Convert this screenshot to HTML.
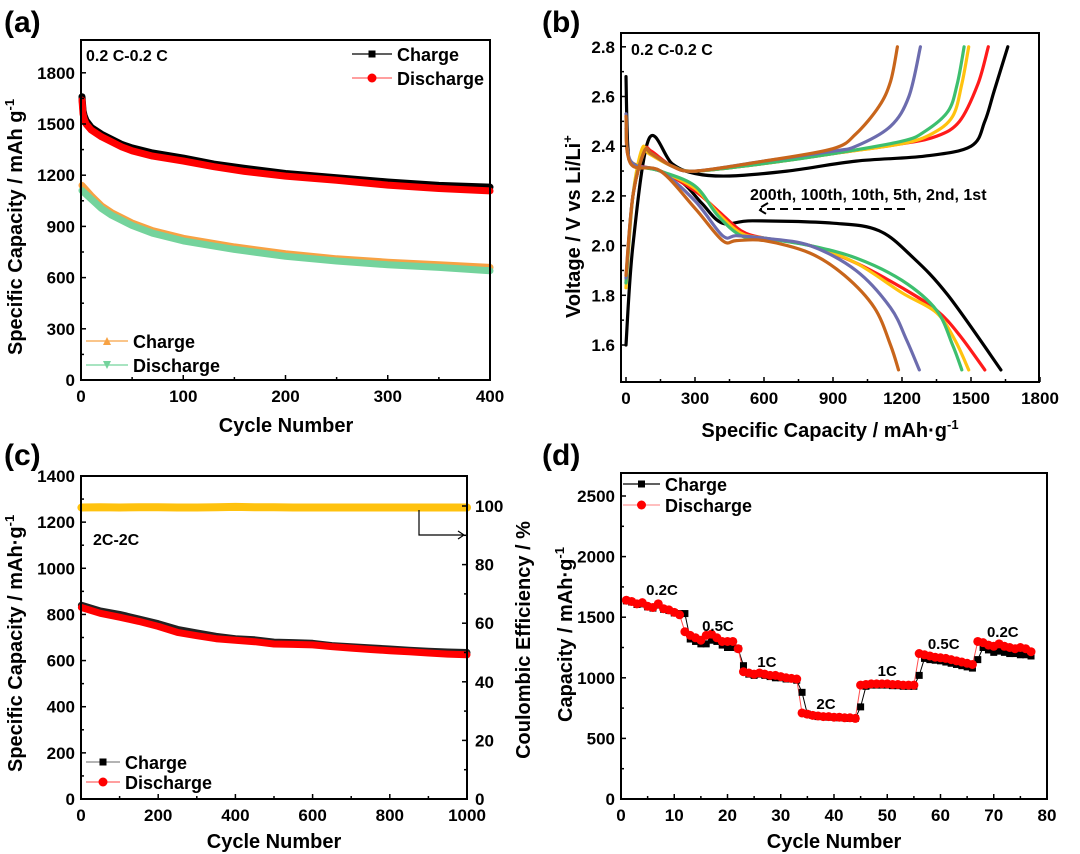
<!DOCTYPE html>
<html><head><meta charset="utf-8"><style>
html,body{margin:0;padding:0;background:#fff;}
svg{display:block;font-family:"Liberation Sans",Arial,sans-serif;font-weight:bold;}
</style></head><body>
<svg id="fig" width="1080" height="854" viewBox="0 0 1080 854" xmlns="http://www.w3.org/2000/svg">
<rect width="1080" height="854" fill="#fff"/>
<text x="4" y="32" font-size="30">(a)</text>
<text x="542" y="32" font-size="30">(b)</text>
<text x="4" y="465" font-size="30">(c)</text>
<text x="542" y="465" font-size="30">(d)</text>
</svg>
<script>
// ---------- Panel (a) data ----------
const aCycles = [1,2,3,5,10,20,30,40,50,70,100,130,160,200,250,300,350,400];
const aCharge1 = [1660,1580,1550,1520,1480,1440,1410,1380,1360,1330,1300,1265,1240,1210,1185,1160,1140,1130];
const aDischarge1 = [1640,1560,1530,1500,1465,1425,1395,1365,1343,1312,1283,1250,1222,1195,1170,1142,1122,1108];
const aCycles2 = [1,10,20,30,50,70,100,150,200,250,300,350,400];
const aCharge2 = [1140,1080,1020,980,920,875,830,780,740,710,690,675,660];
const aDischarge2 = [1110,1060,1005,965,905,860,815,765,725,697,675,660,640];
const aXTicks = [0,100,200,300,400];
const aYTicks = [0,300,600,900,1200,1500,1800];
// ---------- Panel (b) data ----------
const bNames = ['1st','2nd','5th','10th','100th','200th'];
const bColors = ['#000000','#ff1a1a','#ffc20e','#3dbf6e','#6c6cae','#c8651b'];
const bDisCap = [
 [0,8,30,150,250,330,420,550,900,1100,1250,1400,1630],
 [0,20,150,300,400,500,600,800,1000,1200,1350,1450,1560],
 [0,20,150,300,400,500,600,800,1000,1200,1350,1430,1490],
 [0,20,150,300,400,500,600,800,1000,1200,1350,1420,1460],
 [0,20,150,300,420,480,600,800,1000,1150,1220,1275],
 [0,20,150,300,420,480,600,800,950,1080,1150,1185]];
const bDisV = [
 [2.68,2.4,2.33,2.3,2.25,2.17,2.09,2.1,2.09,2.06,1.95,1.8,1.5],
 [2.47,2.34,2.3,2.22,2.14,2.06,2.03,2.0,1.93,1.83,1.74,1.64,1.5],
 [2.5,2.34,2.3,2.23,2.13,2.05,2.03,2.0,1.93,1.81,1.73,1.62,1.5],
 [2.5,2.34,2.3,2.24,2.12,2.04,2.03,2.0,1.95,1.86,1.74,1.6,1.5],
 [2.53,2.34,2.3,2.18,2.04,2.04,2.03,2.0,1.9,1.75,1.62,1.5],
 [2.52,2.33,2.3,2.15,2.02,2.02,2.02,1.97,1.88,1.75,1.6,1.5]];
const bChgCap = [
 [0,30,100,200,300,450,700,1000,1300,1500,1560,1600,1660],
 [0,30,80,110,200,300,600,900,1200,1350,1450,1530,1575],
 [0,30,70,100,200,300,600,900,1200,1330,1420,1460,1490],
 [0,30,80,110,200,300,600,900,1200,1300,1400,1440,1470],
 [0,30,80,110,200,300,600,900,1000,1150,1230,1280],
 [0,30,80,110,200,300,600,900,1000,1100,1150,1180]];
const bChgV = [
 [1.6,2.0,2.43,2.33,2.29,2.28,2.3,2.34,2.36,2.4,2.5,2.62,2.8],
 [1.85,2.2,2.38,2.38,2.32,2.3,2.33,2.37,2.41,2.44,2.5,2.65,2.8],
 [1.83,2.2,2.39,2.37,2.32,2.3,2.33,2.37,2.41,2.45,2.52,2.65,2.8],
 [1.85,2.2,2.38,2.37,2.32,2.3,2.33,2.37,2.42,2.46,2.54,2.65,2.8],
 [1.87,2.2,2.38,2.37,2.32,2.3,2.34,2.38,2.4,2.48,2.6,2.8],
 [1.88,2.2,2.38,2.37,2.32,2.3,2.34,2.39,2.45,2.56,2.66,2.8]];
const bXTicks = [0,300,600,900,1200,1500,1800];
const bYTicks = [1.6,1.8,2.0,2.2,2.4,2.6,2.8];
// ---------- Panel (c) data ----------
const cCycles = [1,50,100,150,200,250,300,350,400,450,500,550,600,650,700,750,800,850,900,950,1000];
const cCharge = [840,815,800,780,760,735,720,705,695,690,680,678,675,665,660,655,650,645,640,637,635];
const cDischarge = [830,805,788,770,748,722,708,695,688,682,672,670,668,660,654,648,643,638,633,628,625];
const cCE = [99.5,99.6,99.5,99.6,99.6,99.5,99.5,99.6,99.7,99.6,99.6,99.5,99.5,99.5,99.5,99.5,99.5,99.5,99.5,99.5,99.5];
const cXTicks = [0,200,400,600,800,1000];
const cYTicks = [0,200,400,600,800,1000,1200,1400];
const cRTicks = [0,20,40,60,80,100];
// ---------- Panel (d) data ----------
const dDischarge = [1640,1630,1610,1620,1590,1580,1610,1570,1560,1540,1520,
 1380,1350,1330,1310,1350,1360,1330,1300,1300,1300,1240,
 1050,1040,1030,1040,1030,1020,1020,1010,1000,995,990,
 710,700,690,685,680,680,675,675,670,670,665,
 940,945,950,950,950,950,945,945,940,940,940,
 1200,1190,1180,1170,1165,1160,1150,1140,1130,1120,1110,
 1300,1290,1270,1260,1280,1260,1250,1240,1250,1240,1215];
const dCharge = [1635,1625,1605,1610,1585,1575,1600,1565,1555,1535,1530,
 1530,1320,1300,1280,1280,1310,1300,1270,1250,1250,1240,
 1100,1030,1020,1030,1020,1010,1000,1000,990,990,980,
 880,700,690,680,680,675,675,670,670,665,665,
 760,930,940,940,940,940,935,935,930,930,930,
 1020,1160,1150,1145,1140,1130,1120,1110,1100,1090,1080,
 1150,1250,1230,1210,1220,1210,1200,1200,1190,1190,1180];
const dXTicks = [0,10,20,30,40,50,60,70,80];
const dYTicks = [0,500,1000,1500,2000,2500];
const dRateLabels = ['0.2C','0.5C','1C','2C','1C','0.5C','0.2C'];
const dRateCycle = [7.7,18.2,27.4,38.5,50,60.6,71.7];
const dRateVal = [1683,1386,1089,743,1015,1238,1337];

const NS='http://www.w3.org/2000/svg';
const svg=document.getElementById('fig');
function mk(tag,attrs){const e=document.createElementNS(NS,tag);for(const k in attrs)e.setAttribute(k,attrs[k]);svg.appendChild(e);return e;}
function txt(x,y,s,size,anchor,rot){const e=mk('text',{x:x,y:y,'font-size':size,'text-anchor':anchor||'start'});if(rot)e.setAttribute('transform','rotate(-90 '+x+' '+y+')');e.textContent=s;return e;}
function pts(xs,ys,sx,sy){return xs.map((v,i)=>sx(v).toFixed(1)+','+sy(ys[i]).toFixed(1)).join(' ');}
function smoothPath(xs,ys,sx,sy){const P=xs.map((v,i)=>[sx(v),sy(ys[i])]);let d='M'+P[0][0].toFixed(1)+' '+P[0][1].toFixed(1);
for(let i=0;i<P.length-1;i++){const p0=P[Math.max(0,i-1)],p1=P[i],p2=P[i+1],p3=P[Math.min(P.length-1,i+2)];
const c1=[p1[0]+(p2[0]-p0[0])/6,p1[1]+(p2[1]-p0[1])/6],c2=[p2[0]-(p3[0]-p1[0])/6,p2[1]-(p3[1]-p1[1])/6];
d+=' C'+c1.map(v=>v.toFixed(1)).join(' ')+' '+c2.map(v=>v.toFixed(1)).join(' ')+' '+p2.map(v=>v.toFixed(1)).join(' ');}return d;}
function frame(x0,y0,x1,y1,nm){const r=mk('rect',{x:x0,y:y0,width:x1-x0,height:y1-y0,fill:'none',stroke:'#000','stroke-width':2});

}
function xticks(ticks,sx,yb,nm){ticks.forEach((t,i)=>{const l=mk('line',{x1:sx(t),x2:sx(t),y1:yb,y2:yb-5,stroke:'#000','stroke-width':1.5});


if(i<ticks.length-1){const m=(t+ticks[i+1])/2;const l2=mk('line',{x1:sx(m),x2:sx(m),y1:yb,y2:yb-3,stroke:'#000','stroke-width':1.5});

}
const e=txt(sx(t),yb+22,String(t),17,'middle');

});}
function yticks(ticks,sy,xl,nm,right,fmt){ticks.forEach((t,i)=>{const d=right?-1:1;const l=mk('line',{x1:xl,x2:xl+5*d,y1:sy(t),y2:sy(t),stroke:'#000','stroke-width':1.5});


if(i<ticks.length-1){const m=(t+ticks[i+1])/2;const l2=mk('line',{x1:xl,x2:xl+3*d,y1:sy(m),y2:sy(m),stroke:'#000','stroke-width':1.5});

}
const e=txt(right?xl+8:xl-6,sy(t)+6,fmt?fmt(t):String(t),17,right?'start':'end');

});}
function line(xs,ys,sx,sy,col,w,nm){const p=mk('polyline',{points:pts(xs,ys,sx,sy),fill:'none',stroke:col,'stroke-width':w,'stroke-linejoin':'round','stroke-linecap':'round'});

return p;}
function curve(xs,ys,sx,sy,col,w,nm){const p=mk('path',{d:smoothPath(xs,ys,sx,sy),fill:'none',stroke:col,'stroke-width':w,'stroke-linejoin':'round','stroke-linecap':'round'});

return p;}
function legend(x0,x1,y,col,marker,label,nm,lineCol){const l=mk('line',{x1:x0,x2:x1,y1:y,y2:y,stroke:lineCol||col,'stroke-width':1.2});


const cx=(x0+x1)/2;let m;
if(marker==='sq')m=mk('rect',{x:cx-3.5,y:y-3.5,width:7,height:7,fill:col});
else if(marker==='ci')m=mk('circle',{cx:cx,cy:y,r:4.5,fill:col});
else if(marker==='up')m=mk('polygon',{points:(cx-4)+','+(y+4)+' '+(cx+4)+','+(y+4)+' '+cx+','+(y-4),fill:col});
else m=mk('polygon',{points:(cx-4)+','+(y-4)+' '+(cx+4)+','+(y-4)+' '+cx+','+(y+4),fill:col});


const t=txt(x1+5,y+7,label,18,'start');

}

// ===== Panel A =====
const axA=v=>81+v/400*409, ayA=v=>380-v/300*51.2;
line(aCycles2,aCharge2,axA,ayA,'#f7a244',7,'a-charge-orange-series');
line(aCycles2,aDischarge2,axA,ayA,'#74d39c',7,'a-discharge-green-series');
line(aCycles,aCharge1,axA,ayA,'#000',7,'a-charge-black-series');
line(aCycles,aDischarge1,axA,ayA,'#ff0000',7,'a-discharge-red-series');
frame(81,40,490,380,'a-plot-frame');
xticks(aXTicks,axA,380,'a');yticks(aYTicks,ayA,81,'a');
let e;
e=txt(286,432,'Cycle Number',20,'middle');


e=txt(22,355,'',20,'start',true);
e.innerHTML='Specific Capacity / mAh g<tspan dy="-8" font-size="13">-1</tspan>';


e=txt(86,61,'0.2 C-0.2 C',16,'start');


legend(352,392,54,'#000','sq','Charge','a-legend-charge-black','#000');
legend(352,392,78,'#ff0000','ci','Discharge','a-legend-discharge-red','#f66');
legend(86,128,341,'#f7a244','up','Charge','a-legend-charge-orange');
legend(86,128,365,'#74d39c','dn','Discharge','a-legend-discharge-green');

// ===== Panel B =====
const axB=v=>626+v/300*69, ayB=v=>345-(v-1.6)/0.2*49.7;
for(let i=0;i<6;i++){
 curve(bDisCap[i],bDisV[i],axB,ayB,bColors[i],3.2,'b-discharge-'+bNames[i]);
 curve(bChgCap[i],bChgV[i],axB,ayB,bColors[i],3.2,'b-charge-'+bNames[i]);
}
frame(621,33,1039,382,'b-plot-frame');
xticks(bXTicks,axB,382,'b');yticks(bYTicks,ayB,621,'b',false,t=>t.toFixed(1));
e=txt(830,437,'',20,'middle');
e.innerHTML='Specific Capacity / mAh·g<tspan dy="-8" font-size="13">-1</tspan>';


e=txt(580,318,'',20,'start',true);
e.innerHTML='Voltage / V vs Li/Li<tspan dy="-8" font-size="13">+</tspan>';


e=txt(631,55,'0.2 C-0.2 C',16,'start');


e=txt(750,200,'200th, 100th, 10th, 5th, 2nd, 1st',16,'start');


e=mk('path',{d:'M905 209 H760 M768 203 L758 209 L768 215',fill:'none',stroke:'#000','stroke-width':2,'stroke-dasharray':'8 5'});



// ===== Panel C =====
const axC=v=>81+v*0.386, ayC=v=>799-v/1400*323, ayCR=v=>799-v*2.93;
line(cCycles,cCE,axC,ayCR,'#ffc20e',8,'c-coulombic-efficiency-series');
line(cCycles,cCharge,axC,ayC,'#222',7,'c-charge-series');
line(cCycles,cDischarge,axC,ayC,'#ff0000',7,'c-discharge-series');
frame(81,476,467,799,'c-plot-frame');
xticks(cXTicks,axC,799,'c');yticks(cYTicks,ayC,81,'c');yticks(cRTicks,ayCR,467,'c-right',true);
e=txt(274,848,'Cycle Number',20,'middle');


e=txt(22,772,'',20,'start',true);
e.innerHTML='Specific Capacity / mAh·g<tspan dy="-8" font-size="13">-1</tspan>';


e=txt(530,640,'Coulombic Efficiency / %',20,'middle',true);


e=txt(93,545,'2C-2C',16,'start');


e=mk('path',{d:'M419 510 V535 H464 M458 531 L464 535 L458 539',fill:'none',stroke:'#000','stroke-width':1.2});


legend(86,120,762,'#000','sq','Charge','c-legend-charge','#888');
legend(86,120,782,'#ff0000','ci','Discharge','c-legend-discharge','#f66');

// ===== Panel D =====
const axD=v=>621+v/80*426, ayD=v=>799-v/500*60.6;
const dCyc=dCharge.map((_,i)=>i+1);
line(dCyc,dCharge,axD,ayD,'#000',1,'d-charge-line');
line(dCyc,dDischarge,axD,ayD,'#ff4d4d',1,'d-discharge-line');
dCyc.forEach((c,i)=>{const r=mk('rect',{x:axD(c)-3.5,y:ayD(dCharge[i])-3.5,width:7,height:7,fill:'#000'});

});
dCyc.forEach((c,i)=>{const r=mk('circle',{cx:axD(c),cy:ayD(dDischarge[i]),r:4.5,fill:'#ff0000'});

});
dRateLabels.forEach((s,i)=>{const t=txt(axD(dRateCycle[i]),ayD(dRateVal[i]),s,15,'middle');

});
frame(621,473,1047,799,'d-plot-frame');
xticks(dXTicks,axD,799,'d');yticks(dYTicks,ayD,621,'d');
e=txt(834,848,'Cycle Number',20,'middle');


e=txt(572,722,'',20,'start',true);
e.innerHTML='Capacity / mAh·g<tspan dy="-8" font-size="13">-1</tspan>';


legend(623,660,484,'#000','sq','Charge','d-legend-charge','#000');
legend(623,660,505,'#ff0000','ci','Discharge','d-legend-discharge','#f99');
</script>
</body></html>
